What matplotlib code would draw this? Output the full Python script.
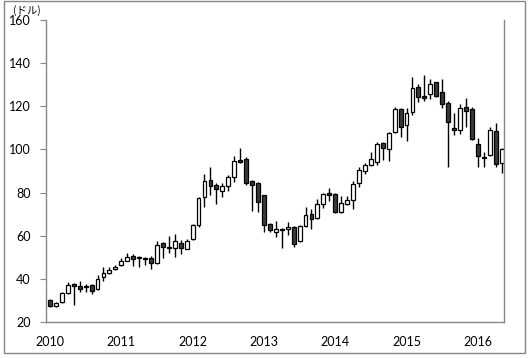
import matplotlib
matplotlib.use('Agg')
import matplotlib.pyplot as plt
from matplotlib.patches import Rectangle
import numpy as np

# monthly candles, Jan 2010 .. May 2016
opens = [30.2, 27.5, 29.1, 33.6, 37.6, 36.5, 36.6, 37.0, 35.2, 40.7, 42.9, 44.8,
         46.3, 48.4, 50.6, 50.2, 49.8, 49.8, 47.5, 56.5, 54.8, 54.3, 56.5, 54.0,
         58.4, 65.1, 77.8, 85.7, 83.4, 80.9, 83.2, 87.4, 95.0, 95.6, 85.4, 84.5,
         78.7, 65.3, 61.9, 63.1, 63.0, 64.0, 57.5, 64.5, 70.0, 68.1, 74.6, 79.8,
         79.3, 71.0, 74.6, 76.4, 84.3, 90.1, 92.9, 94.3, 102.8, 100.0, 107.9, 118.6,
         111.2, 117.5, 128.8, 124.8, 125.9, 131.1, 126.5, 121.5, 109.8, 108.9, 119.5, 118.6,
         102.4, 96.4, 97.4, 108.4, 93.6]
highs = [30.7, 29.1, 34.0, 38.5, 38.0, 39.1, 37.5, 37.5, 41.6, 45.4, 45.7, 46.4,
         49.7, 51.8, 51.5, 50.6, 50.2, 50.7, 57.4, 57.0, 60.0, 60.6, 58.0, 58.5,
         65.6, 78.0, 88.7, 91.7, 84.6, 84.6, 88.3, 97.0, 100.7, 96.4, 85.8, 85.0,
         78.9, 65.7, 67.0, 63.6, 66.4, 64.5, 65.0, 73.2, 72.2, 76.9, 79.9, 82.0,
         79.9, 78.3, 78.3, 85.4, 91.7, 93.6, 99.0, 103.6, 103.6, 108.2, 119.7, 119.3,
         119.3, 133.7, 130.3, 134.5, 132.6, 131.4, 132.5, 122.3, 116.7, 120.9, 123.7, 119.8,
         105.4, 99.0, 110.3, 112.1, 100.5]
lows = [26.8, 26.8, 29.0, 33.0, 28.0, 34.0, 34.0, 33.0, 34.8, 39.0, 42.1, 44.1,
        46.0, 48.1, 46.0, 45.5, 46.6, 44.4, 47.0, 49.7, 51.8, 50.3, 51.4, 53.7,
        57.9, 64.2, 73.4, 78.7, 74.7, 77.8, 80.9, 85.0, 93.6, 83.6, 71.6, 71.1,
        61.7, 61.7, 59.6, 54.4, 60.3, 54.9, 57.2, 64.2, 63.2, 67.7, 72.7, 76.2,
        70.4, 70.7, 74.4, 72.5, 82.7, 88.5, 92.3, 92.8, 95.1, 94.8, 107.5, 105.9,
        104.1, 116.0, 121.8, 122.6, 123.2, 124.4, 119.1, 91.7, 106.8, 107.2, 110.5, 104.4,
        92.0, 92.0, 97.1, 92.0, 88.9]
closes = [27.4, 28.7, 33.6, 37.0, 36.5, 35.4, 36.0, 34.3, 40.1, 42.6, 44.1, 45.7,
          48.4, 50.3, 49.4, 49.6, 49.0, 47.5, 55.5, 54.6, 54.3, 57.4, 54.2, 57.4,
          65.0, 77.3, 85.2, 83.0, 81.8, 82.9, 87.2, 94.5, 94.3, 84.6, 83.4, 75.5,
          64.8, 62.5, 63.2, 62.5, 64.0, 56.3, 64.5, 69.5, 67.6, 74.6, 79.2, 79.0,
          71.0, 75.0, 76.6, 83.8, 90.3, 92.6, 95.4, 102.4, 100.5, 107.5, 118.7, 110.3,
          116.7, 128.3, 124.2, 124.0, 130.2, 124.9, 120.9, 112.6, 109.2, 119.1, 118.0, 105.0,
          97.0, 95.8, 108.9, 93.2, 100.0]
years = ['2010', '2011', '2012', '2013', '2014', '2015', '2016']
yticks = [20, 40, 60, 80, 100, 120, 140, 160]

plt.rcParams['font.family'] = ['Lato', 'DejaVu Sans']
grey = '#868686'

fig = plt.figure(figsize=(5.3, 3.58), dpi=100)
fig.patches.append(Rectangle((4/530, 5/358), 521/530, 352/358, transform=fig.transFigure,
                             fill=False, edgecolor=grey, linewidth=1))
ax = fig.add_axes([46/530, 36/358, 458/530, 302/358])

x = np.arange(len(opens))
o = np.array(opens); c = np.array(closes)
up = c >= o
ax.vlines(x, lows, highs, color='black', linewidth=1, zorder=1)
ax.bar(x[up], (c - o)[up], bottom=o[up], width=0.65, color='white',
       edgecolor='black', linewidth=0.9, zorder=2)
ax.bar(x[~up], (o - c)[~up], bottom=c[~up], width=0.65, color='#3a3a3a',
       edgecolor='black', linewidth=0.9, zorder=2)

ax.set_xlim(-0.67, 76.4)
ax.set_ylim(20, 160)
ax.set_yticks(yticks)
ax.set_xticks(np.arange(len(years)) * 12)
ax.set_xticklabels(years)
ax.tick_params(axis='y', length=4.5, color=grey, pad=6.5, labelsize=9, labelcolor='black')
ax.tick_params(axis='x', length=0, pad=10, labelsize=9, labelcolor='black')
ax.spines['top'].set_visible(False)
for s in ['left', 'bottom', 'right']:
    ax.spines[s].set_color(grey)
    ax.spines[s].set_linewidth(1)

fig.text(13/530, 1 - 11/358, '(ドル)', fontsize=7.5, va='center', ha='left',
         family=['Noto Sans CJK JP', 'DejaVu Sans'])

fig.savefig('out.png', dpi=100)
